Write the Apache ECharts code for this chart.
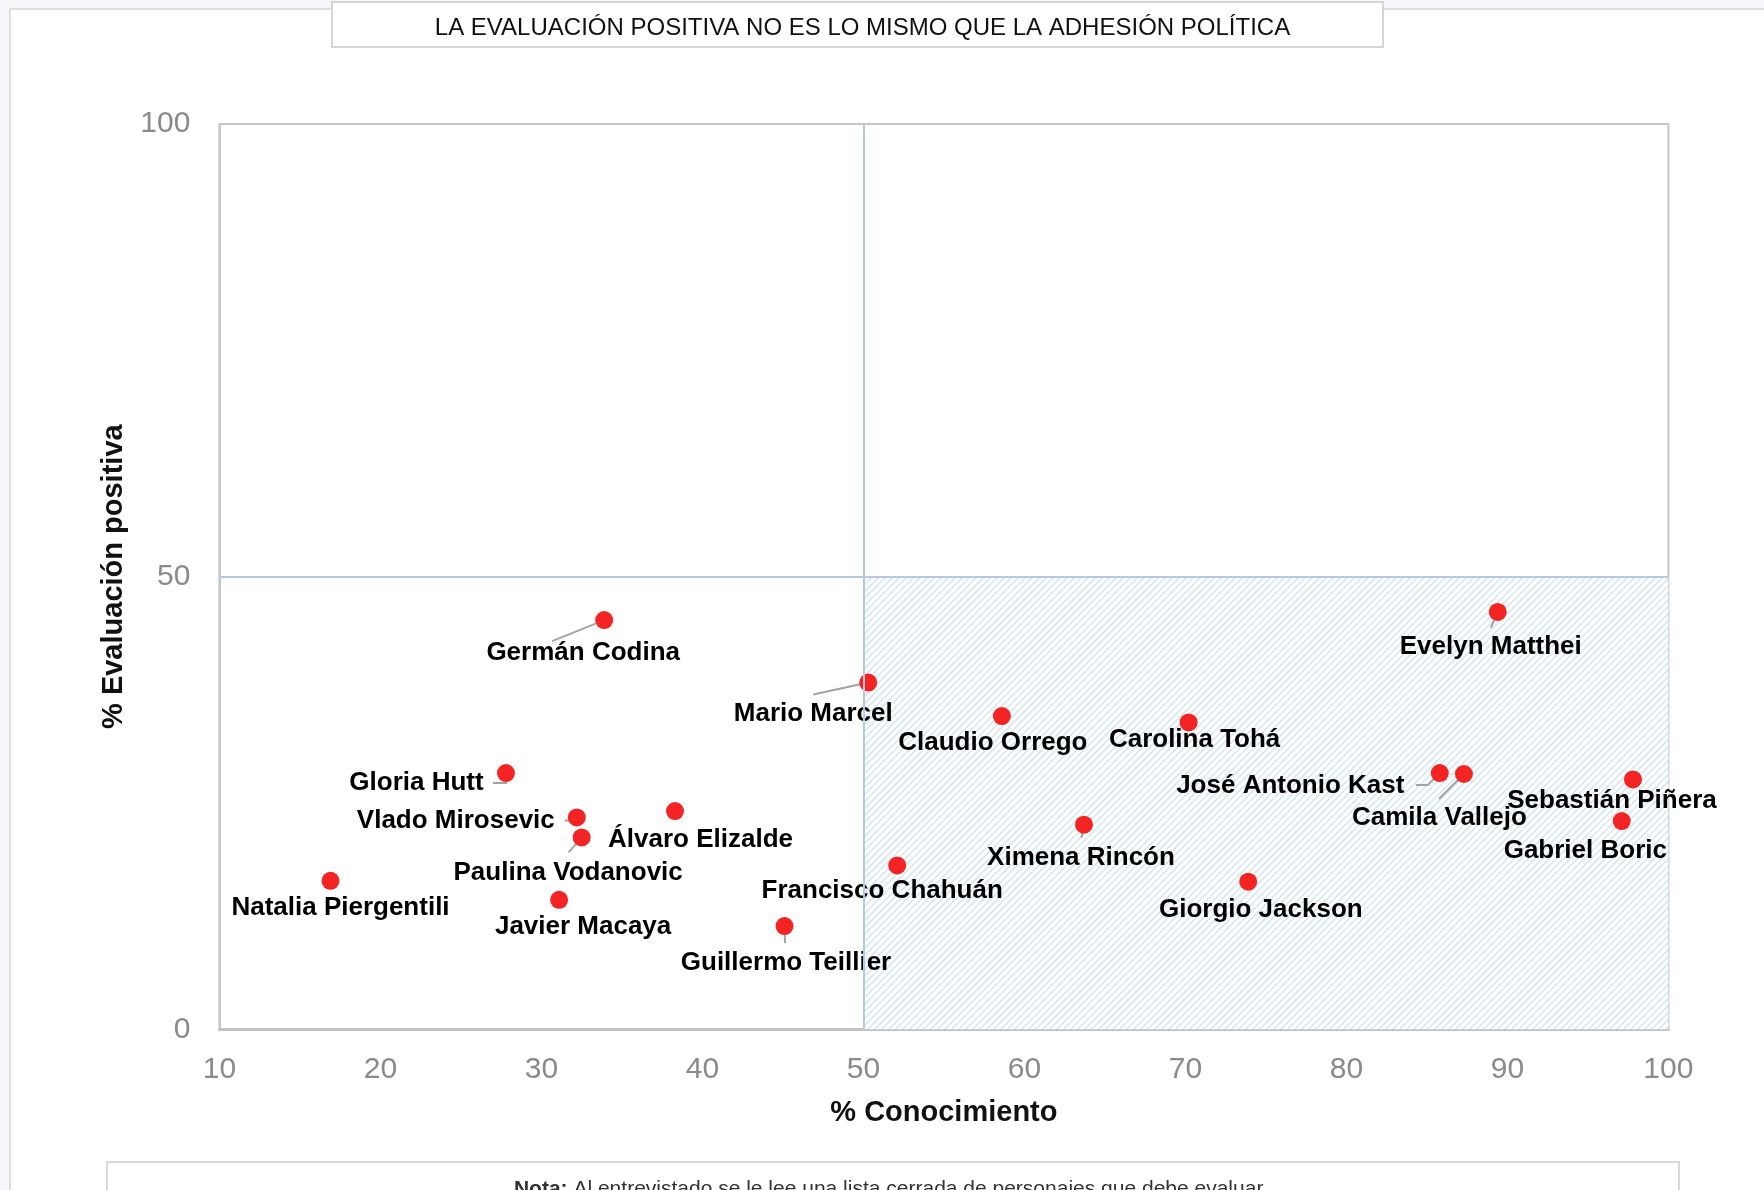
<!DOCTYPE html>
<html>
<head>
<meta charset="utf-8">
<script src="https://cdn.jsdelivr.net/npm/echarts@6/dist/echarts.min.js"></script>
<style>
  html, body { margin: 0; padding: 0; background: #f5f6f9; }
  #chart { width: 1764px; height: 1190px; }
</style>
</head>
<body>
<div id="chart"></div>
<script>
// ---- Data ----
const names = [
  'Germán Codina', 'Mario Marcel', 'Gloria Hutt', 'Vlado Mirosevic', 'Paulina Vodanovic',
  'Álvaro Elizalde', 'Natalia Piergentili', 'Javier Macaya', 'Guillermo Teillier',
  'Claudio Orrego', 'Carolina Tohá', 'Ximena Rincón', 'Francisco Chahuán', 'Giorgio Jackson',
  'Evelyn Matthei', 'José Antonio Kast', 'Camila Vallejo', 'Sebastián Piñera', 'Gabriel Boric'
];
const conocimiento = [33.9, 50.3, 27.8, 32.2, 32.5, 38.3, 16.9, 31.1, 45.1, 58.6, 70.2, 63.7, 52.1, 73.9, 89.4, 85.8, 87.3, 97.8, 97.1];
const evaluacion   = [45.2, 38.3, 28.3, 23.4, 21.2, 24.1, 16.4, 14.3, 11.4, 34.6, 33.9, 22.6, 18.1, 16.3, 46.1, 28.3, 28.2, 27.6, 23.0];
const xTicks = [10, 20, 30, 40, 50, 60, 70, 80, 90, 100];
const yTicks = [0, 50, 100];
const quadrantX = 50;
const quadrantY = 50;

const titleText = 'LA EVALUACIÓN POSITIVA NO ES LO MISMO QUE LA ADHESIÓN POLÍTICA';
const xName = '% Conocimiento';
const yName = '% Evaluación positiva';
const noteBold = 'Nota:';
const noteText = ' Al entrevistado se le lee una lista cerrada de personajes que debe evaluar.';

// ---- Layout (pixel offsets of labels / leader lines relative to each point) ----
const labelOffsets = {
  'Germán Codina': [-21, 33], 'Mario Marcel': [-55, 31.5], 'Gloria Hutt': [-89.5, 9.5],
  'Vlado Mirosevic': [-121, 3], 'Paulina Vodanovic': [-13.5, 35], 'Álvaro Elizalde': [25.5, 29],
  'Natalia Piergentili': [10, 27], 'Javier Macaya': [24, 27], 'Guillermo Teillier': [1.5, 36.5],
  'Claudio Orrego': [-9, 27], 'Carolina Tohá': [6, 17], 'Ximena Rincón': [-3, 33],
  'Francisco Chahuán': [-15, 25.5], 'Giorgio Jackson': [12.6, 28], 'Evelyn Matthei': [-7, 35],
  'José Antonio Kast': [-149.5, 12.5], 'Camila Vallejo': [-24.5, 44], 'Sebastián Piñera': [-21, 21],
  'Gabriel Boric': [-36.4, 30]
};
const leaderPaths = {
  'Germán Codina': [[0, 0], [-52, 21]],
  'Mario Marcel': [[0, 0], [-55, 12]],
  'Gloria Hutt': [[0, 0], [0, 10], [-13, 10]],
  'Vlado Mirosevic': [[0, 0], [-1, 3], [-12, 3]],
  'Paulina Vodanovic': [[0, 0], [-13, 15]],
  'Guillermo Teillier': [[0, 0], [0.5, 17]],
  'Ximena Rincón': [[0, 0], [-2.5, 13]],
  'Evelyn Matthei': [[0, 0], [-7, 16]],
  'José Antonio Kast': [[0, 0], [-12, 12], [-24, 12]],
  'Camila Vallejo': [[0, 0], [-25, 25]]
};

// hatch pattern
const pc = document.createElement('canvas');
pc.width = 7; pc.height = 7;
const pctx = pc.getContext('2d');
pctx.fillStyle = '#ffffff';
pctx.fillRect(0, 0, 7, 7);
pctx.strokeStyle = '#cfe4ee';
pctx.lineWidth = 1.4;
pctx.beginPath();
pctx.moveTo(-1, 8); pctx.lineTo(8, -1);
pctx.moveTo(-1, 1); pctx.lineTo(1, -1);
pctx.moveTo(6, 8); pctx.lineTo(8, 6);
pctx.stroke();

const FONT = '"Liberation Sans", Arial, Helvetica, sans-serif';

const points = names.map((n, i) => ({
  name: n,
  value: [conocimiento[i], evaluacion[i]],
  label: { offset: labelOffsets[n] }
}));

const chart = echarts.init(document.getElementById('chart'));
chart.setOption({
  backgroundColor: '#f5f6f9',
  animation: false,
  title: {
    text: titleText,
    left: 857.5,
    textAlign: 'center',
    top: 11,
    textStyle: { fontFamily: FONT, fontSize: 24, fontWeight: 'normal', color: '#111' }
  },
  graphic: [
    { type: 'rect', z: -20, shape: { x: 10, y: 9, width: 1800, height: 1300 },
      style: { fill: '#ffffff', stroke: '#dedfe2', lineWidth: 2 } },
    { type: 'rect', z: -19, shape: { x: 332, y: 2, width: 1051, height: 45 },
      style: { fill: '#ffffff', stroke: '#d6d6d6', lineWidth: 2 } },
    { type: 'rect', z: -19, shape: { x: 107, y: 1162, width: 1572, height: 60 },
      style: { fill: '#ffffff', stroke: '#d9d9d9', lineWidth: 2 } },
    { type: 'text', z: 5,
      style: {
        x: 891, y: 1189, textAlign: 'center', textVerticalAlign: 'middle',
        text: '{b|' + noteBold + '}{r|' + noteText + '}',
        rich: {
          b: { fontFamily: FONT, fontSize: 21, fontWeight: 'bold', fill: '#333', color: '#333' },
          r: { fontFamily: FONT, fontSize: 21, fill: '#333', color: '#333' }
        }
      }
    }
  ],
  grid: {
    left: 219.4, right: 95.6, top: 124, bottom: 160.7,
    show: true, backgroundColor: '#ffffff', borderColor: '#c4c6c9', borderWidth: 2
  },
  xAxis: {
    type: 'value', min: 10, max: 100, interval: 10,
    name: xName, nameLocation: 'middle', nameGap: 69,
    nameTextStyle: { fontFamily: FONT, fontSize: 29, fontWeight: 'bold', color: '#111' },
    axisLine: { show: true, lineStyle: { color: '#bfc1c4', width: 3 } },
    axisTick: { show: false },
    splitLine: { show: false },
    axisLabel: {
      margin: 25, fontFamily: FONT, fontSize: 30, color: '#8a8a8a',
      customValues: xTicks
    }
  },
  yAxis: {
    type: 'value', min: 0, max: 100, interval: 50,
    name: yName, nameLocation: 'middle', nameGap: 91,
    nameTextStyle: { fontFamily: FONT, fontSize: 29, fontWeight: 'bold', color: '#111' },
    axisLine: { show: true, lineStyle: { color: '#c4c6c9', width: 2 } },
    axisTick: { show: false },
    splitLine: { show: false },
    axisLabel: {
      margin: 29, fontFamily: FONT, fontSize: 30, color: '#8a8a8a',
      padding: [6, 0, 0, 0],
      customValues: yTicks
    }
  },
  series: [
    {
      type: 'custom',
      z: 3,
      silent: true,
      data: names.map((n, i) => [conocimiento[i], evaluacion[i]]),
      renderItem: function (params, api) {
        const path = leaderPaths[names[params.dataIndex]];
        if (!path) return null;
        const p = api.coord([api.value(0), api.value(1)]);
        return {
          type: 'polyline',
          shape: { points: path.map(o => [p[0] + o[0], p[1] + o[1]]) },
          style: { stroke: '#a3a3a3', lineWidth: 2, fill: null }
        };
      }
    },
    {
      type: 'scatter',
      z: 4,
      symbol: 'circle',
      symbolSize: 18,
      itemStyle: { color: '#f52424', opacity: 1 },
      label: {
        show: true,
        position: 'inside',
        formatter: '{b}',
        align: 'center',
        verticalAlign: 'middle',
        fontFamily: FONT, fontSize: 26, fontWeight: 'bold', color: '#000', opacity: 1
      },
      data: points,
      markArea: {
        silent: true,
        z: 1,
        itemStyle: { color: { image: pc, repeat: 'repeat' }, opacity: 1 },
        data: [[{ xAxis: quadrantX, yAxis: 0 }, { xAxis: 100, yAxis: quadrantY }]]
      },
      markLine: {
        silent: true,
        symbol: 'none',
        label: { show: false },
        lineStyle: { color: '#b7c8e3', width: 2, type: 'solid' },
        data: [{ xAxis: quadrantX }, { yAxis: quadrantY }]
      }
    }
  ]
});
</script>
</body>
</html>
